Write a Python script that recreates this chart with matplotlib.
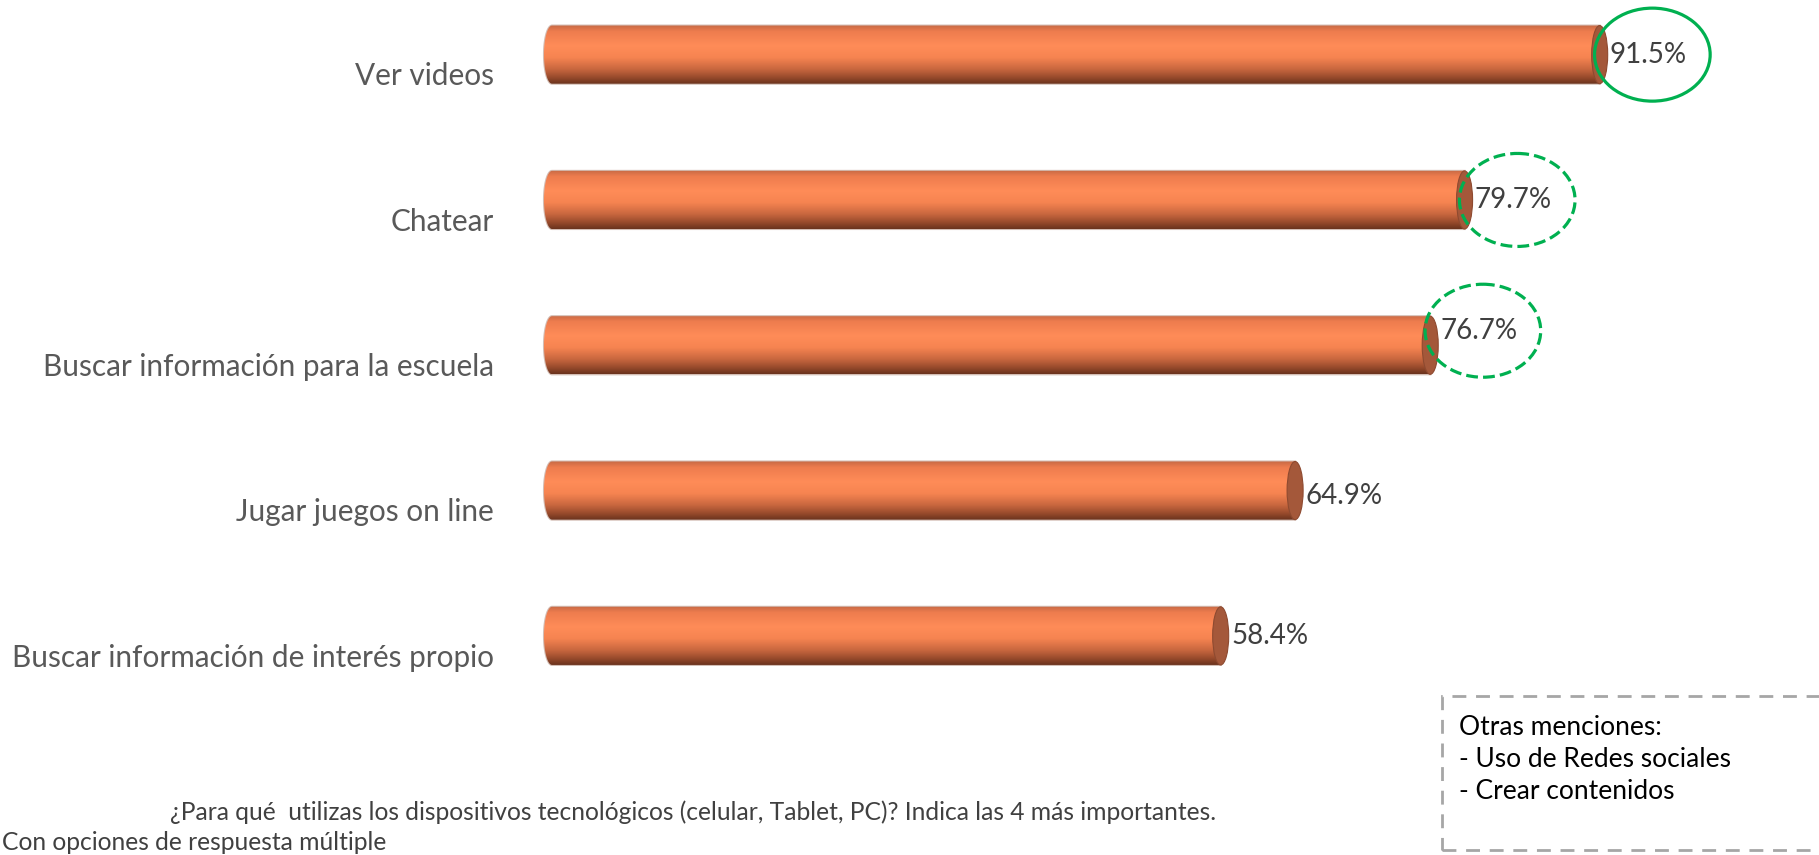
import numpy as np
import matplotlib
matplotlib.use("Agg")
import matplotlib.pyplot as plt
from matplotlib.patches import Ellipse, Polygon, Rectangle
from matplotlib.colors import to_rgb

# data
categories = [
    "Ver videos",
    "Chatear",
    "Buscar información para la escuela",
    "Jugar juegos on line",
    "Buscar información de interés propio",
]
values = [91.5, 79.7, 76.7, 64.9, 58.4]
highlight = ["solid", "dashed", "dashed", None, None]

question = "¿Para qué  utilizas los dispositivos tecnológicos (celular, Tablet, PC)? Indica las 4 más importantes."
note = "Con opciones de respuesta múltiple"
otras = ["Otras menciones:", "- Uso de Redes sociales", "- Crear contenidos"]

# small vertical nudges of the value labels (as placed in the original)
label_dy = [0.0, 0.0, -0.1, 0.04, 0.0]

plt.rcParams['font.family'] = ['Lato', 'DejaVu Sans']

W, H = 1819, 855
PX = 11.45  # pixels per percent
fig = plt.figure(figsize=(W / 100, H / 100), dpi=100)
ax = fig.add_axes([(552 - 2 * PX) / W, (H - 694) / H, 102 * PX / W, 694 / H])
ax.axis("off")

# cylinder shading, top -> bottom
stops = [(0.0, "#c86a45"), (0.1, "#ee7c4e"), (0.35, "#ff8c58"), (0.55, "#f68451"),
         (0.75, "#c9673f"), (0.9, "#95492b"), (1.0, "#6c341e")]
pos = np.linspace(0, 1, 64)
grad = np.zeros((64, 1, 3))
for c in range(3):
    grad[:, 0, c] = np.interp(pos, [s[0] for s in stops], [to_rgb(s[1])[c] for s in stops])

bar_h = 0.40
cap_w = 1.4

for i, (cat, v) in enumerate(zip(categories, values)):
    y = i
    t = np.linspace(np.pi / 2, 3 * np.pi / 2, 40)
    left = np.column_stack([cap_w / 2 * np.cos(t), y - bar_h / 2 * np.sin(t)])
    pts = np.vstack([left, [[v, y + bar_h / 2], [v, y - bar_h / 2]]])
    ax.add_patch(Polygon(pts, closed=True, facecolor="none", edgecolor="#d3bdb4", lw=1.5, zorder=1))
    clip = Polygon(pts, closed=True, facecolor="none", edgecolor="none", transform=ax.transData)
    im = ax.imshow(grad, extent=(-cap_w, v, y + bar_h / 2, y - bar_h / 2),
                   origin="upper", aspect="auto", zorder=2)
    im.set_clip_path(clip)
    ax.add_patch(Ellipse((v, y), cap_w, bar_h, facecolor="#a4583a",
                         edgecolor="#8e4a30", lw=0.8, zorder=3))

    ax.text(-5.1, y + 0.15, cat, ha="right", va="center", fontsize=21.4,
            color="#595959", clip_on=False)
    ly = y + label_dy[i]
    ax.text(v + 0.9, ly, f"{v:.1f}%", ha="left", va="center", fontsize=20,
            color="#404040", zorder=5, clip_on=False)

    if highlight[i]:
        ax.add_patch(Ellipse((v + 4.6, ly), 10.1, 0.64, facecolor="none", edgecolor="#00b050",
                             lw=2.3, linestyle=highlight[i], zorder=6, clip_on=False))

ax.set_xlim(-2, 100)
ax.set_ylim(4.4, -0.376)

# box with other mentions
box = Rectangle((1442 / W, (H - 850) / H), 0.3, (850 - 696) / H, transform=fig.transFigure,
                facecolor="none", edgecolor="#a6a6a6", lw=2, linestyle=(0, (5, 3.5)))
fig.patches.append(box)
for k, line in enumerate(otras):
    fig.text(1459 / W, (H - 727 - 32 * k) / H, line, ha="left", va="center",
             fontsize=19, color="#000000")

fig.text(170 / W, (H - 812) / H, question, ha="left", va="center", fontsize=17.7, color="#404040")
fig.text(2 / W, 1 / H, note, ha="left", va="bottom", fontsize=17.7, color="#404040")

fig.savefig("out.png", dpi=100)
